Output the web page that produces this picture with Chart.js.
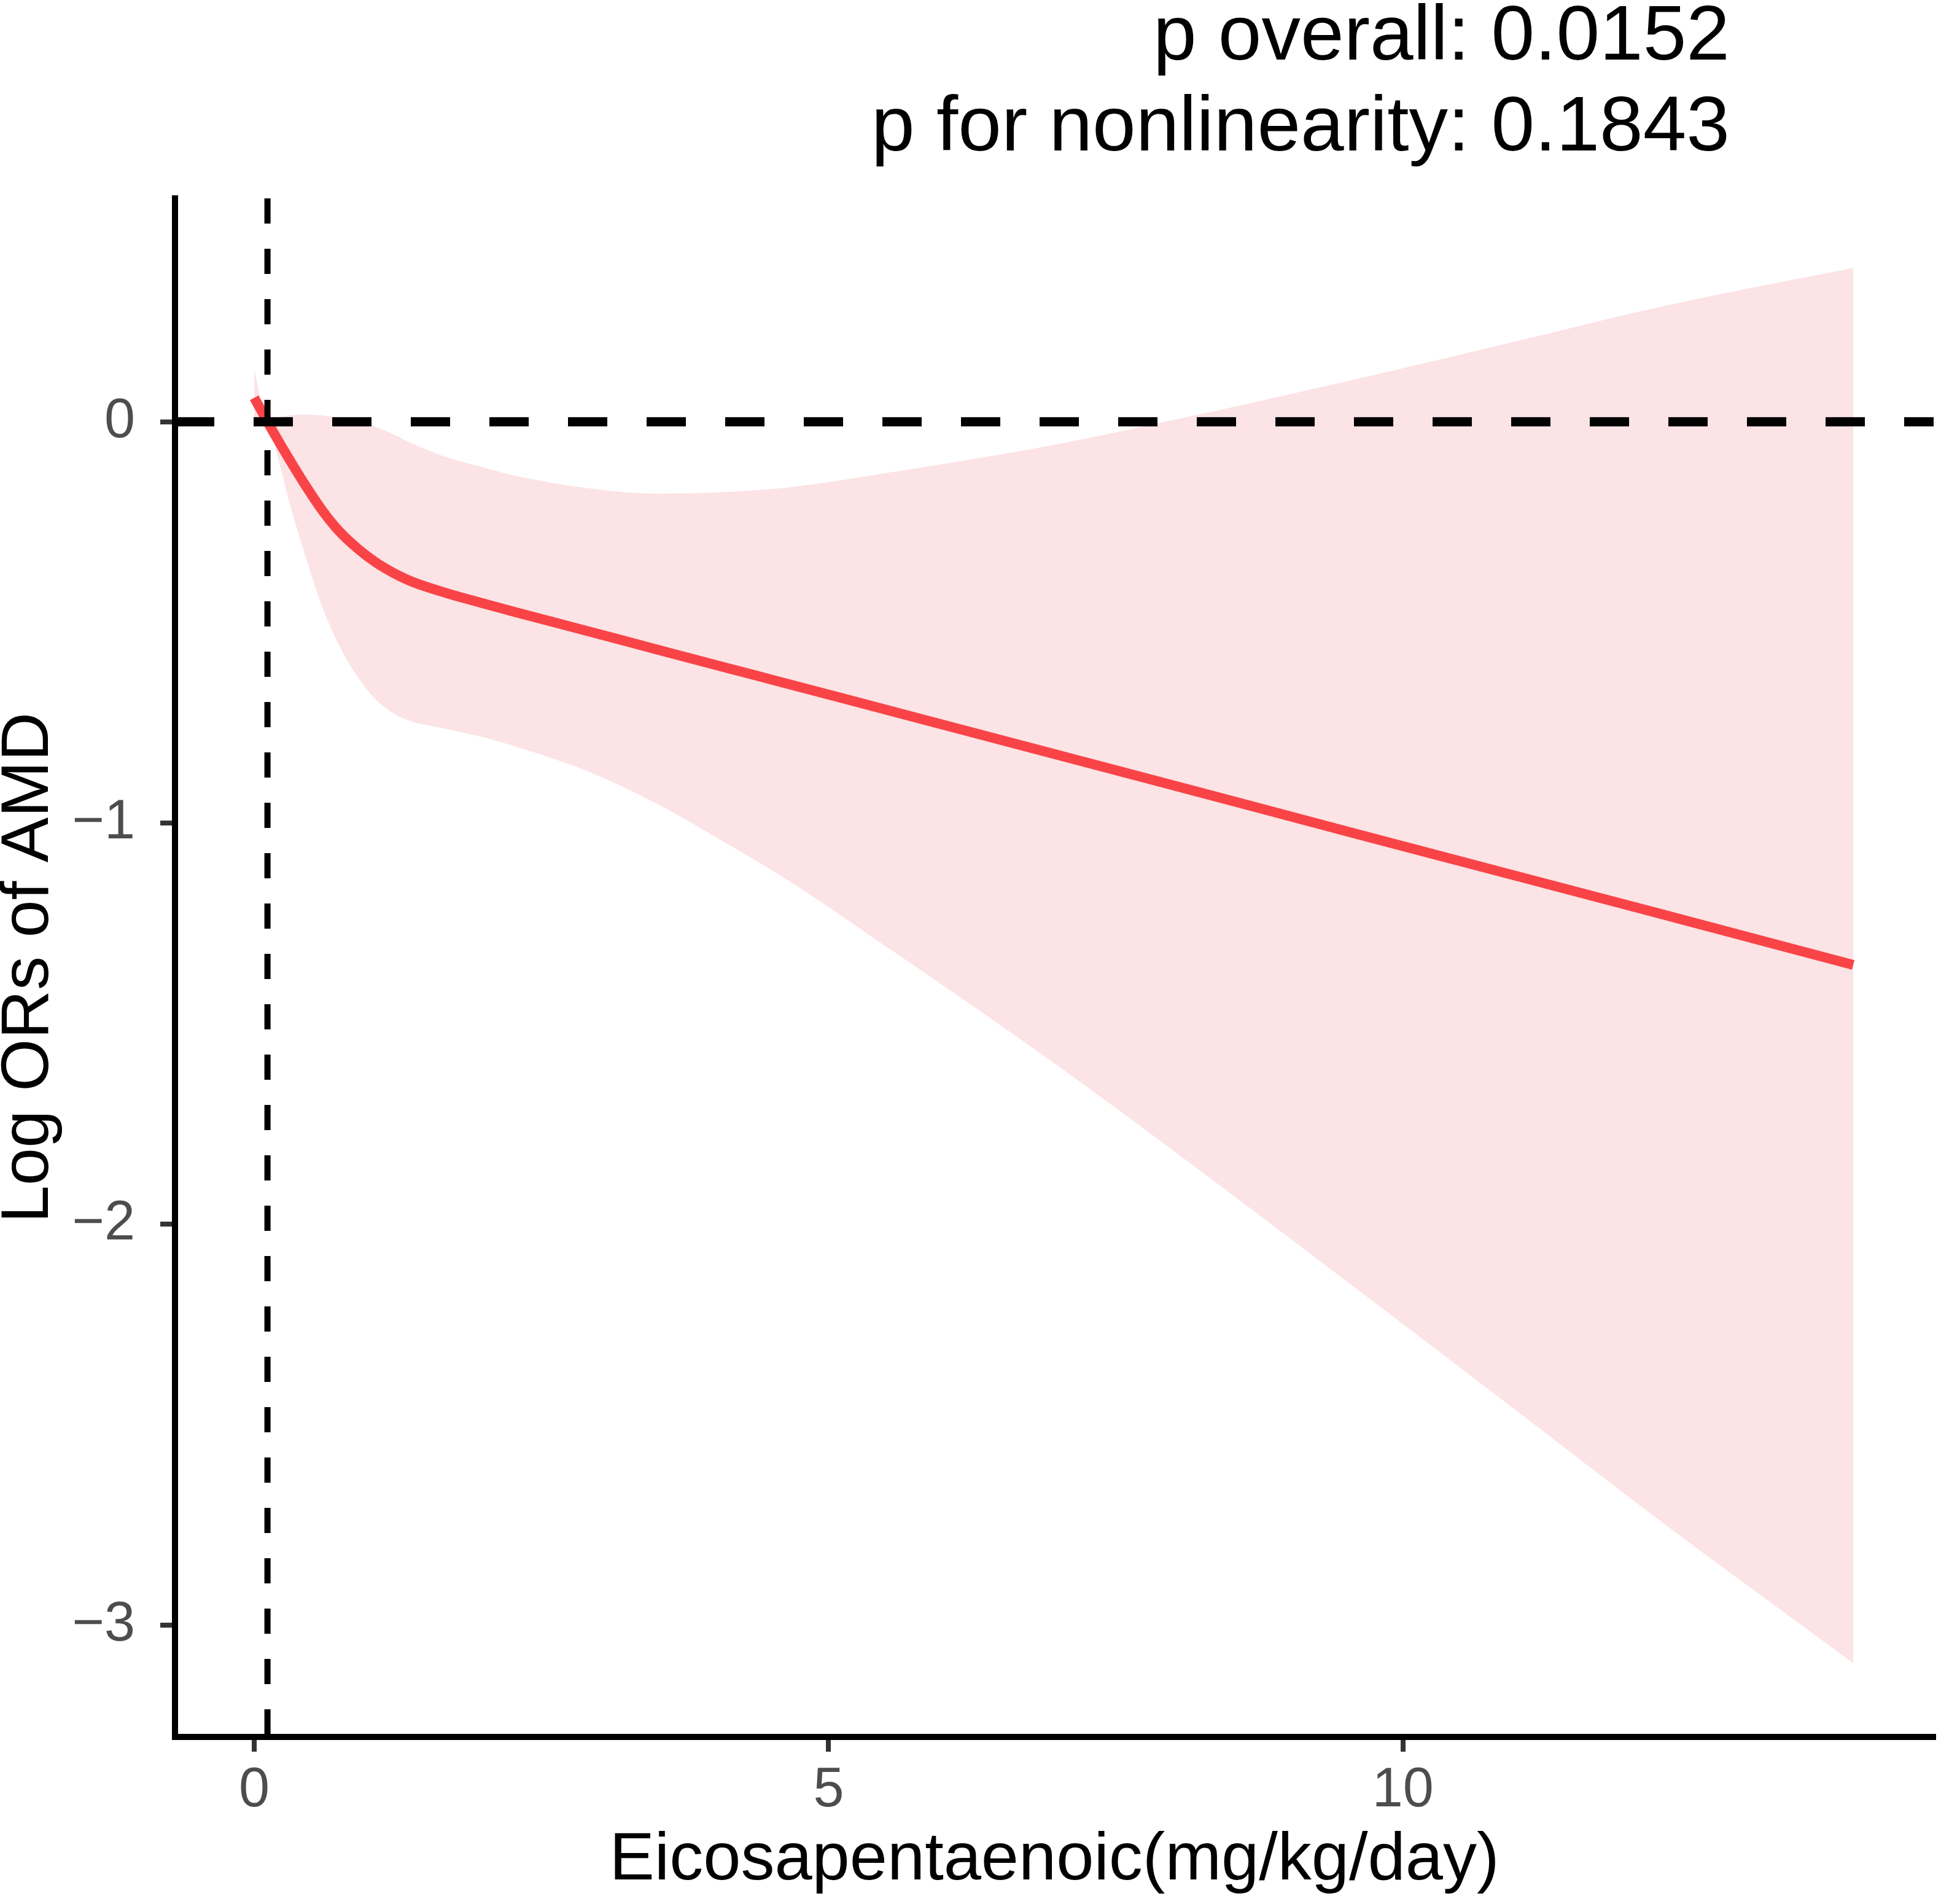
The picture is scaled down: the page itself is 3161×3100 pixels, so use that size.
<!DOCTYPE html>
<html>
<head>
<meta charset="utf-8">
<script src="https://cdn.jsdelivr.net/npm/chart.js@4/dist/chart.umd.min.js"></script>
<style>
  html, body { margin: 0; padding: 0; background: #ffffff; }
  #wrap { width: 3161px; height: 3100px; }
</style>
</head>
<body>
<div id="wrap"><canvas id="c" width="3161" height="3100"></canvas></div>
<script>
// ---- data ----
const ribbonX = [0, 0.115, 0.22, 0.31, 0.44, 0.59, 0.74, 0.90, 1.05, 1.20, 1.36, 1.66, 1.97, 2.28, 2.89, 3.51, 4.12, 4.64, 5.54, 6.88, 8.22, 9.56, 10.89, 12.23, 13.92];
const fitY    = [0.06, 0.0, -0.0525, -0.0957, -0.156, -0.220, -0.273, -0.316, -0.349, -0.375, -0.397, -0.426, -0.451, -0.475, -0.521, -0.568, -0.614, -0.653, -0.721, -0.822, -0.923, -1.025, -1.125, -1.226, -1.354];
const upperCI = [0.13, 0.0, 0.012, 0.016, 0.018, 0.016, 0.010, 0.000, -0.012, -0.030, -0.052, -0.087, -0.112, -0.135, -0.165, -0.179, -0.175, -0.164, -0.126, -0.062, 0.018, 0.104, 0.194, 0.286, 0.384];
const lowerCI = [-0.01, 0.0, -0.105, -0.205, -0.330, -0.460, -0.558, -0.636, -0.690, -0.725, -0.746, -0.765, -0.785, -0.810, -0.870, -0.953, -1.053, -1.142, -1.316, -1.582, -1.864, -2.154, -2.444, -2.738, -3.095];
const refX = 0.115;
const refY = 0;
const xTicks = [0, 5, 10];
const yTicks = [-3, -2, -1, 0];
const xLimits = [-0.69, 14.62];
const yLimits = [-3.279, 0.557];
const xTitle = 'Eicosapentaenoic(mg/kg/day)';
const yTitle = 'Log ORs of AMD';
const pLines = ['p overall: 0.0152', 'p for nonlinearity: 0.1843'];

// ---- styles ----
const FONT = '"Liberation Sans", Arial, Helvetica, sans-serif';
const RED = '#F94447';
const PINK = '#FCE3E5';

const pts = (xs, ys) => xs.map((x, i) => ({ x: x, y: ys[i] }));
const fmt = v => (v < 0 ? '\u2212' + Math.abs(v) : String(v));

const annotationPlugin = {
  id: 'pAnnot',
  afterDraw(chart) {
    const ctx = chart.ctx;
    const ca = chart.chartArea;
    ctx.save();
    ctx.fillStyle = '#000000';
    ctx.font = '127px ' + FONT;
    ctx.textAlign = 'right';
    ctx.textBaseline = 'alphabetic';
    const xr = ca.right - 332;
    ctx.fillText(pLines[0], xr, 97);
    ctx.fillText(pLines[1], xr, 245);
    ctx.restore();
  }
};

new Chart(document.getElementById('c'), {
  type: 'line',
  data: {
    datasets: [
      {
        label: 'hline',
        data: [{ x: xLimits[0], y: refY }, { x: xLimits[1], y: refY }],
        borderColor: '#000000',
        borderWidth: 15,
        borderDash: [64, 64],
        pointRadius: 0,
        fill: false,
        borderCapStyle: 'butt'
      },
      {
        label: 'vline',
        data: [{ x: refX, y: yLimits[1] }, { x: refX, y: yLimits[0] }],
        borderColor: '#000000',
        borderWidth: 10,
        borderDash: [41, 41],
        pointRadius: 0,
        fill: false,
        borderCapStyle: 'butt'
      },
      {
        label: 'fit',
        data: pts(ribbonX, fitY),
        borderColor: RED,
        borderWidth: 16,
        pointRadius: 0,
        fill: false,
        cubicInterpolationMode: 'monotone',
        borderCapStyle: 'butt'
      },
      {
        label: 'upper',
        data: pts(ribbonX, upperCI),
        borderWidth: 0,
        borderColor: 'rgba(0,0,0,0)',
        backgroundColor: PINK,
        pointRadius: 0,
        fill: '+1',
        cubicInterpolationMode: 'monotone'
      },
      {
        label: 'lower',
        data: pts(ribbonX, lowerCI),
        borderWidth: 0,
        borderColor: 'rgba(0,0,0,0)',
        backgroundColor: PINK,
        pointRadius: 0,
        fill: false,
        cubicInterpolationMode: 'monotone'
      }
    ]
  },
  options: {
    responsive: false,
    animation: false,
    devicePixelRatio: 1,
    layout: { padding: { left: 0, right: 12, top: 323, bottom: 0 } },
    plugins: {
      legend: { display: false },
      tooltip: { enabled: false },
      title: { display: false }
    },
    scales: {
      x: {
        type: 'linear',
        min: xLimits[0],
        max: xLimits[1],
        afterBuildTicks: s => { s.ticks = xTicks.map(v => ({ value: v })); },
        afterFit: s => { s.height = 272; },
        grid: { display: true, drawOnChartArea: false, drawTicks: true, tickLength: 24, color: '#333333', lineWidth: 8 },
        border: { display: true, color: '#000000', width: 10 },
        ticks: {
          color: '#4D4D4D',
          font: { family: FONT, size: 90 },
          padding: 10,
          maxRotation: 0,
          autoSkip: false,
          callback: v => fmt(v)
        },
        title: {
          display: true,
          text: xTitle,
          color: '#000000',
          font: { family: FONT, size: 110, lineHeight: 1.2 },
          padding: { top: 0, bottom: 4 }
        }
      },
      y: {
        type: 'linear',
        min: yLimits[0],
        max: yLimits[1],
        afterBuildTicks: s => { s.ticks = yTicks.map(v => ({ value: v })); },
        afterFit: s => { s.width = 285; },
        grid: { display: true, drawOnChartArea: false, drawTicks: true, tickLength: 24, color: '#333333', lineWidth: 8 },
        border: { display: true, color: '#000000', width: 10 },
        ticks: {
          color: '#4D4D4D',
          font: { family: FONT, size: 90 },
          padding: 41,
          autoSkip: false,
          callback: v => fmt(v)
        },
        title: {
          display: true,
          text: yTitle,
          color: '#000000',
          font: { family: FONT, size: 110, lineHeight: 0.8 },
          padding: { top: 4, bottom: 0 }
        }
      }
    }
  },
  plugins: [annotationPlugin]
});
</script>
</body>
</html>
